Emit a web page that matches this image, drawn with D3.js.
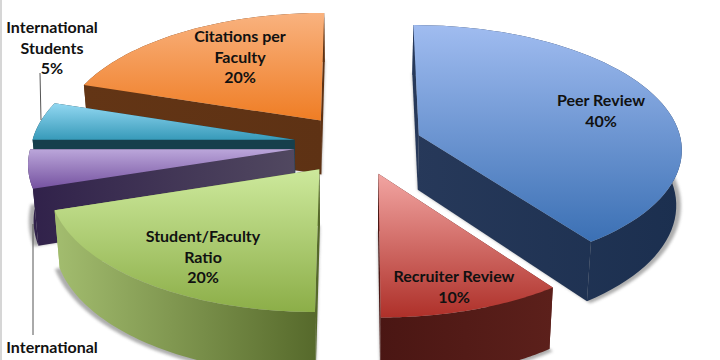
<!DOCTYPE html>
<html><head><meta charset="utf-8">
<script src="https://d3js.org/d3.v7.min.js"></script>
<style>html,body{margin:0;padding:0;background:#fff;overflow:hidden}svg{display:block}</style>
</head><body><svg id="c" width="720" height="360"></svg>
<script>
// ---- data ----
const categories = ["Peer Review","Recruiter Review","Student/Faculty Ratio","International Faculty","International Students","Citations per Faculty"];
const shares = [40,10,20,5,5,20];
const labelLines = [["Peer Review","40%"],["Recruiter Review","10%"],["Student/Faculty","Ratio","20%"],["International"],["International","Students","5%"],["Citations per","Faculty","20%"]];
// ---- styles ----
const topLight = ["#a0bcf0","#f2a5a2","#cde99c","#bba6da","#93d8f2","#f9b27f"];
const topDark  = ["#3b70b4","#ae3029","#8cae48","#7552a0","#379ab9","#ef7d24"];
const wallLeft = ["#27395a","#4a1613","#a3bd6f","#30214a","#163f4c","#633515"];
const wallRight= ["#1b2f4f","#5c201b","#55682a","#514860","#163f4c","#5e3214"];
const drawOrder = [5,4,3,2,0,1];
const labelX = [601,454,203,52,52,240];
const labelY = [106,282,242,353,33,42];
const labelGap = 20.5;
// ---- layout ----
const W=720,H=360, cx=358, cy=144.5, explode=0.245, persp=0.1, depth=55, squeeze=0.983, squeezeX=355;
const gx2px=d3.scaleLinear().domain([0,1]).range([0,263]);
const gy2px=d3.scaleLinear().domain([0,1]).range([0,123]);
function proj(gx,gy,low){
  const f=1/(1-persp*gy);
  let x=cx+gx2px(gx)*f, y=cy+gy2px(gy)*f;
  if(low){ y+=depth*f; x=squeezeX+(x-squeezeX)*squeeze; }
  return [x,y];
}
const svg=d3.select("#c");
const defs=svg.append("defs");
defs.append("filter").attr("id","soft").attr("x","-10%").attr("y","-10%").attr("width","120%").attr("height","120%")
  .append("feGaussianBlur").attr("stdDeviation",1.8);
const arcs=d3.pie().sort(null).value(d=>d)(shares);
const line=d3.line();
const closed=p=>line(p)+"Z";
function slice(i){
  const a=arcs[i], mid=(a.startAngle+a.endAngle)/2;
  const ox=Math.sin(mid)*explode, oy=-Math.cos(mid)*explode;
  const angs=d3.range(0,61).map(k=>a.startAngle+(a.endAngle-a.startAngle)*k/60);
  const rim=(r,low)=>angs.map(t=>proj(ox+r*Math.sin(t),oy-r*Math.cos(t),low));
  return {ox,oy,rim};
}
drawOrder.forEach(i=>{
  const s=slice(i), g=svg.append("g").attr("class","slice").attr("data-name",categories[i]);
  const apexT=proj(s.ox,s.oy,false), apexB=proj(s.ox,s.oy,true);
  const rimT=s.rim(1,false), rimB=s.rim(1,true);
  const topPoly=[apexT,...rimT], allPts=[...topPoly,...rimB,apexB];
  const [xmin,xmax]=d3.extent(allPts,d=>d[0]);
  const [ymin,ymax]=d3.extent(topPoly,d=>d[1]);
  const tg=defs.append("linearGradient").attr("id","top"+i).attr("gradientUnits","userSpaceOnUse")
    .attr("x1",0).attr("x2",0).attr("y1",ymin).attr("y2",ymax);
  tg.append("stop").attr("offset",0).attr("stop-color",topLight[i]);
  tg.append("stop").attr("offset",1).attr("stop-color",topDark[i]);
  const wg=defs.append("linearGradient").attr("id","wall"+i).attr("gradientUnits","userSpaceOnUse")
    .attr("x1",xmin).attr("x2",xmax).attr("y1",0).attr("y2",0);
  wg.append("stop").attr("offset",0).attr("stop-color",wallLeft[i]);
  wg.append("stop").attr("offset",1).attr("stop-color",wallRight[i]);
  // shadow
  g.append("path").attr("d",closed([proj(s.ox,s.oy,true),...s.rim(1.018,true)]))
    .attr("fill","#777").attr("opacity",.6).attr("filter","url(#soft)");
  // walls
  const walls=[[apexT,rimT[0],rimB[0],apexB],[apexT,rimT[60],rimB[60],apexB],[...rimT,...rimB.slice().reverse()]];
  walls.forEach(w=>g.append("path").attr("d",closed(w)).attr("fill",`url(#wall${i})`));
  g.append("path").attr("d",closed(topPoly)).attr("fill",`url(#top${i})`);
});
// leader lines
const leaders=[[[40,73],[41,120]],[[33,224],[33,335]]];
svg.selectAll("path.leader").data(leaders).join("path").attr("class","leader")
  .attr("d",d=>line(d)).attr("fill","none").attr("stroke","#555").attr("stroke-width",1);
// labels
labelLines.forEach((lines,i)=>{
  const t=svg.append("text").attr("text-anchor","middle").attr("font-family","Lato, 'Open Sans', sans-serif")
    .attr("font-size",16).attr("font-weight",700).attr("fill","#111");
  lines.forEach((l,j)=>t.append("tspan").attr("x",labelX[i]).attr("y",labelY[i]+j*labelGap).text(l));
});
// frame edges
svg.append("line").attr("x1",1).attr("x2",1).attr("y1",0).attr("y2",H).attr("stroke","#c8c8c8").attr("stroke-width",1.5);
</script></body></html>
